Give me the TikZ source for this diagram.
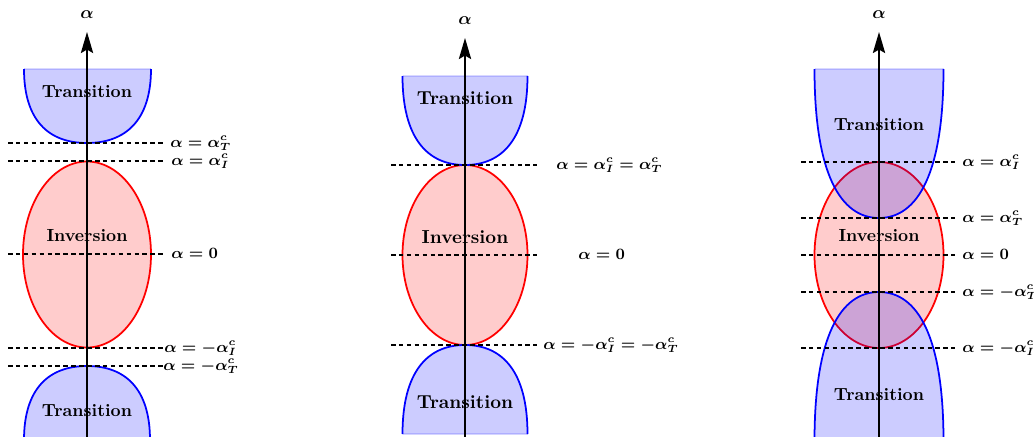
\documentclass[tikz,border=0pt]{standalone}
\usetikzlibrary{arrows.meta}

\begin{document}
\begin{tikzpicture}[
    x=0.02cm, y=-0.02cm,
    invreg/.style={draw=red, line width=1pt, fill=red, fill opacity=0.2},
    trfill/.style={fill=blue, fill opacity=0.2},
    trline/.style={draw=blue, line width=1pt},
    tredge/.style={draw=blue, opacity=0.15, line width=1pt},
    lvl/.style={line width=1pt, dash pattern=on 2.6pt off 1.9pt},
    axis/.style={line width=0.9pt, -{Stealth[length=12pt, width=7pt, inset=2pt]}},
    reg/.style={font=\bfseries},
    regb/.style={font=\fontsize{10.7}{13}\selectfont\bfseries},
    val/.style={font=\small\boldmath, anchor=base west, inner sep=0pt},
    axlbl/.style={font=\boldmath}
]
    \useasboundingbox (0,0) rectangle (1034,436);

    % panel 1: gap between the two thresholds
    \draw[invreg] (87,254.5) ellipse [x radius=64, y radius=93];
    \fill[trfill] (24,69) .. controls (24,120.8) and (48.9,143) .. (87,143)
        .. controls (125.1,143) and (151,120.8) .. (151,69) -- cycle;
    \draw[trline] (24,69) .. controls (24,120.8) and (48.9,143) .. (87,143)
        .. controls (125.1,143) and (151,120.8) .. (151,69);
    \draw[tredge] (24,69) -- (151,69);
    \fill[trfill] (24,440) .. controls (24,388.2) and (49.2,366) .. (87,366)
        .. controls (124.8,366) and (150,388.2) .. (150,440) -- cycle;
    \draw[trline] (24,440) .. controls (24,388.2) and (49.2,366) .. (87,366)
        .. controls (124.8,366) and (150,388.2) .. (150,440);
    \node[reg] (tt1) at (87,92) {Transition};
    \node[reg] (in1) at (87,236) {Inversion};
    \node[reg] (tb1) at (87,411) {Transition};
    \draw[lvl] (8,143) -- (163,143);
    \draw[lvl] (8,161) -- (163,161);
    \draw[lvl] (8,254) -- (163,254);
    \draw[lvl] (8,348) -- (163,348);
    \draw[lvl] (8,366) -- (163,366);
    \node[val] (v11) at (170,147) {$\alpha=\alpha_T^c$};
    \node[val] (v12) at (171,165) {$\alpha=\alpha_I^c$};
    \node[val] (v13) at (171,258) {$\alpha=0$};
    \node[val] (v14) at (164,352) {$\alpha=-\alpha_I^c$};
    \node[val] (v15) at (163,370) {$\alpha=-\alpha_T^c$};
    \coordinate (bot1) at (87,440);
    \coordinate (top1) at (87,32);
    \draw[axis] (bot1) -- (top1);
    \node[axlbl] (a1) at (87,15) {$\alpha$};

    % panel 2: thresholds coincide
    \draw[invreg] (465,255) ellipse [x radius=62.5, y radius=90];
    \fill[trfill] (402.5,76) .. controls (402.5,138.3) and (427.5,165) .. (465,165)
        .. controls (502.5,165) and (527.5,138.3) .. (527.5,76) -- cycle;
    \draw[trline] (402.5,76) .. controls (402.5,138.3) and (427.5,165) .. (465,165)
        .. controls (502.5,165) and (527.5,138.3) .. (527.5,76);
    \draw[tredge] (402.5,76) -- (527.5,76);
    \fill[trfill] (402.5,434) .. controls (402.5,371.7) and (427.5,345) .. (465,345)
        .. controls (502.5,345) and (527.5,371.7) .. (527.5,434) -- cycle;
    \draw[trline] (402.5,434) .. controls (402.5,371.7) and (427.5,345) .. (465,345)
        .. controls (502.5,345) and (527.5,371.7) .. (527.5,434);
    \draw[tredge] (402.5,434) -- (527.5,434);
    \node[regb] (tt2) at (465,98) {Transition};
    \node[regb] (in2) at (465,237) {Inversion};
    \node[regb] (tb2) at (465,402) {Transition};
    \draw[lvl] (391,165) -- (537,165);
    \draw[lvl] (391,255) -- (537,255);
    \draw[lvl] (391,345) -- (537,345);
    \node[val] (v21) at (556,169) {$\alpha=\alpha_I^c=\alpha_T^c$};
    \node[val] (v22) at (578,259) {$\alpha=0$};
    \node[val] (v23) at (543,349) {$\alpha=-\alpha_I^c=-\alpha_T^c$};
    \coordinate (bot2) at (465,440);
    \coordinate (top2) at (465,38);
    \draw[axis] (bot2) -- (top2);
    \node[axlbl] (a2) at (465,21) {$\alpha$};

    % panel 3: overlapping regions
    \draw[invreg] (879,255) ellipse [x radius=64.5, y radius=93];
    \fill[trfill] (814.5,69) .. controls (814.5,173.3) and (840.3,218) .. (879,218)
        .. controls (917.7,218) and (943.5,173.3) .. (943.5,69) -- cycle;
    \draw[trline] (814.5,69) .. controls (814.5,173.3) and (840.3,218) .. (879,218)
        .. controls (917.7,218) and (943.5,173.3) .. (943.5,69);
    \draw[tredge] (814.5,69) -- (943.5,69);
    \fill[trfill] (814.5,441) .. controls (814.5,336.7) and (840.3,292) .. (879,292)
        .. controls (917.7,292) and (943.5,336.7) .. (943.5,441) -- cycle;
    \draw[trline] (814.5,441) .. controls (814.5,336.7) and (840.3,292) .. (879,292)
        .. controls (917.7,292) and (943.5,336.7) .. (943.5,441);
    \node[reg] (tt3) at (879,125) {Transition};
    \node[reg] (in3) at (879,236) {Inversion};
    \node[reg] (tb3) at (879,395) {Transition};
    \draw[lvl] (801,162) -- (955,162);
    \draw[lvl] (801,218) -- (955,218);
    \draw[lvl] (801,255) -- (955,255);
    \draw[lvl] (801,292) -- (955,292);
    \draw[lvl] (801,348) -- (955,348);
    \node[val] (v31) at (962,166) {$\alpha=\alpha_I^c$};
    \node[val] (v32) at (962,222) {$\alpha=\alpha_T^c$};
    \node[val] (v33) at (962,259) {$\alpha=0$};
    \node[val] (v34) at (962,296) {$\alpha=-\alpha_T^c$};
    \node[val] (v35) at (962,352) {$\alpha=-\alpha_I^c$};
    \coordinate (bot3) at (879,441);
    \coordinate (top3) at (879,32);
    \draw[axis] (bot3) -- (top3);
    \node[axlbl] (a3) at (879,15) {$\alpha$};
\end{tikzpicture}
\end{document}
